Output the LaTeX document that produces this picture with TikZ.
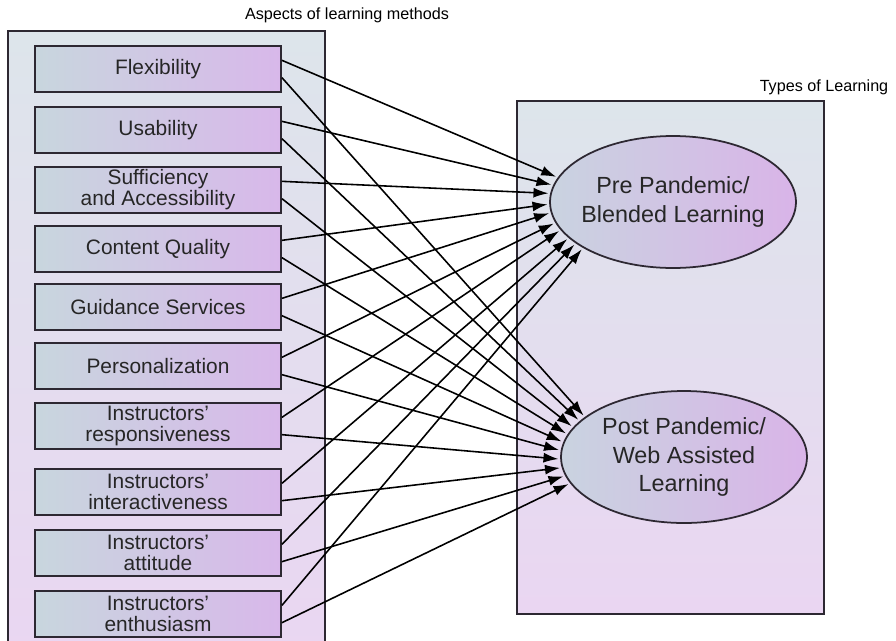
\documentclass[tikz,border=0pt]{standalone}
\usepackage{fontspec}
\setmainfont{Liberation Sans}
\usetikzlibrary{arrows.meta,shapes.geometric}
\definecolor{BoxLeft}{RGB}{200,214,222}
\definecolor{BoxRight}{RGB}{216,184,234}
\definecolor{PanelTop}{RGB}{221,229,235}
\definecolor{PanelBot}{RGB}{234,214,242}
\definecolor{EllLeft}{RGB}{201,211,224}
\definecolor{EllRight}{RGB}{217,180,232}
\definecolor{Edge}{RGB}{45,40,50}

\begin{document}
\begin{tikzpicture}[x=0.02cm,y=-0.02cm,
  panel/.style={draw=Edge,line width=1.1pt,top color=PanelTop,bottom color=PanelBot},
  aspect/.style={draw=Edge,line width=1.1pt,left color=BoxLeft,right color=BoxRight,
    minimum width=4.92cm,minimum height=0.92cm,inner sep=0pt,align=center,
    font=\fontsize{11.9}{12}\selectfont,text=black!85},
  kind/.style={ellipse,draw=Edge,line width=1pt,left color=EllLeft,right color=EllRight,
    minimum width=4.92cm,minimum height=2.64cm,inner sep=0pt},
  kindtxt/.style={align=center,font=\fontsize{13.3}{16}\selectfont,text=black!85},
  arr/.style={-{Latex[length=3mm,width=2mm]},line width=0.9pt,shorten >=1pt}]
\useasboundingbox (0,0) rectangle (896,640);
\path[panel] (8,31) rectangle (325,660);
\path[panel] (517,101) rectangle (824,614);
\node[font=\fontsize{9.2}{11}\selectfont] at (347,15) {Aspects of learning methods};
\node[font=\fontsize{9.2}{11}\selectfont] at (824,87) {Types of Learning};

\node[aspect] (flex) at (158,69) {Flexibility};
\node[aspect] (usab) at (158,130) {Usability};
\node[aspect] (suff) at (158,190) {Sufficiency\\and Accessibility};
\node[aspect] (cont) at (158,249) {Content Quality};
\node[aspect] (guid) at (158,307) {Guidance Services};
\node[aspect] (pers) at (158,366) {Personalization};
\node[aspect] (resp) at (158,426) {Instructors'\\responsiveness};
\node[aspect] (inter) at (158,492) {Instructors'\\interactiveness};
\node[aspect] (attit) at (158,553) {Instructors'\\attitude};
\node[aspect] (enth) at (158,614) {Instructors'\\enthusiasm};

\node[kind] (pre) at (673,202) {};
\node[kindtxt] at (pre) {Pre Pandemic/\\Blended Learning};
\node[kind] (post) at (684,457) {};
\node[kindtxt] at (post) {Post Pandemic/\\Web Assisted\\Learning};

\foreach \n [count=\i] in {flex,usab,suff,cont,guid,pers,resp,inter,attit,enth} {
  \pgfmathsetmacro\apre{168+(\i-1)*4.44}
  \pgfmathsetmacro\apost{158+(\i-1)*3.9}
  \draw[arr] (\n.4) -- (pre.\apre);
  \draw[arr] (\n.-4) -- (post.\apost);
}
\end{tikzpicture}
\end{document}
